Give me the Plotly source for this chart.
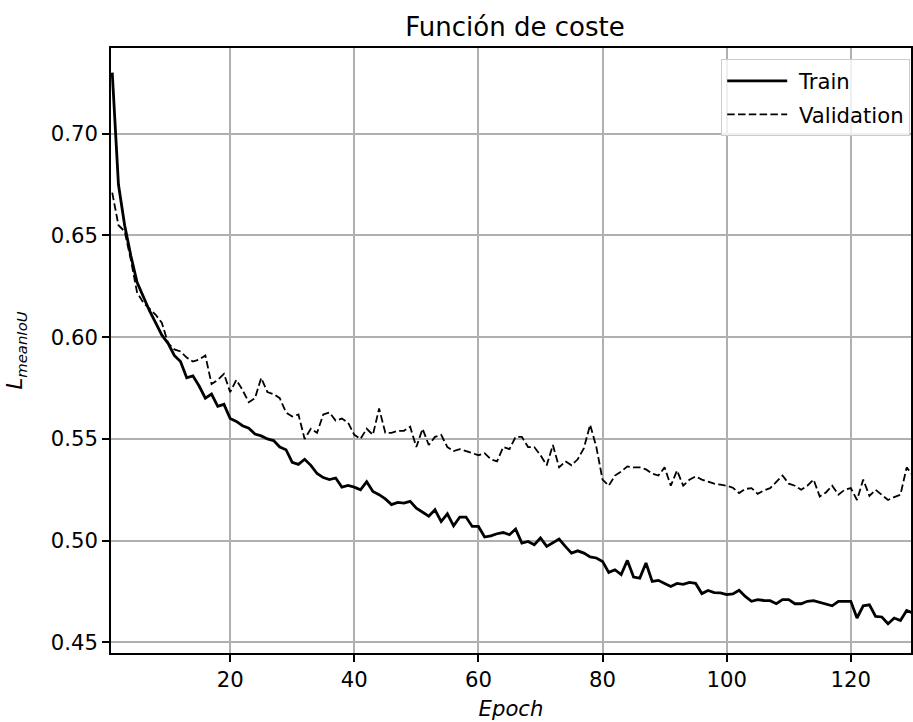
import plotly.graph_objects as go

epochs = list(range(1, 131))

train_loss = [
    0.730, 0.675, 0.655, 0.640, 0.627, 0.620, 0.613, 0.607, 0.601, 0.597,
    0.591, 0.588, 0.580, 0.581, 0.576, 0.570, 0.572, 0.566, 0.567, 0.560,
    0.5586, 0.5565, 0.5553, 0.5524, 0.5515, 0.5500, 0.5492, 0.5460, 0.5447, 0.5385,
    0.5375, 0.5400, 0.5370, 0.5330, 0.5310, 0.5300, 0.5308, 0.5263, 0.5271, 0.5263,
    0.5250, 0.5290, 0.5242, 0.5226, 0.5205, 0.5177, 0.5188, 0.5185, 0.5193, 0.5160,
    0.5139, 0.5120, 0.5152, 0.5094, 0.5132, 0.5073, 0.5116, 0.5116, 0.5070, 0.5070,
    0.5018, 0.5024, 0.5034, 0.5040, 0.5029, 0.5057, 0.4988, 0.4996, 0.4980, 0.5013,
    0.4972, 0.4988, 0.5008, 0.4972, 0.4939, 0.4950, 0.4939, 0.4920, 0.4915, 0.4898,
    0.4844, 0.4857, 0.4833, 0.4903, 0.4821, 0.4816, 0.4890, 0.4800, 0.4805, 0.4790,
    0.4775, 0.4790, 0.4785, 0.4795, 0.4790, 0.4740, 0.4755, 0.4745, 0.4743, 0.4735,
    0.4738, 0.4756, 0.4726, 0.4702, 0.4710, 0.4706, 0.4705, 0.4690, 0.4710, 0.4710,
    0.4690, 0.4690, 0.4702, 0.4705, 0.4697, 0.4690, 0.4680, 0.4702, 0.4702, 0.4702,
    0.4620, 0.4680, 0.4685, 0.4628, 0.4625, 0.4592, 0.4620, 0.4608, 0.4657, 0.4644,
]

val_loss = [
    0.671, 0.655, 0.652, 0.638, 0.622, 0.617, 0.614, 0.611, 0.607, 0.597,
    0.594, 0.593, 0.590, 0.588, 0.589, 0.591, 0.577, 0.579, 0.582, 0.573,
    0.579, 0.574, 0.568, 0.570, 0.580, 0.573, 0.572, 0.570, 0.563, 0.561,
    0.562, 0.550, 0.555, 0.553, 0.562, 0.563, 0.559, 0.560, 0.558, 0.552,
    0.550, 0.555, 0.552, 0.565, 0.553, 0.553, 0.554, 0.554, 0.556, 0.546,
    0.555, 0.547, 0.551, 0.552, 0.546, 0.544, 0.545, 0.544, 0.543, 0.542,
    0.543, 0.540, 0.539, 0.546, 0.545, 0.551, 0.551, 0.546, 0.546, 0.542,
    0.537, 0.547, 0.536, 0.539, 0.537, 0.540, 0.5455, 0.557, 0.546, 0.530,
    0.527, 0.532, 0.534, 0.5365, 0.536, 0.536, 0.535, 0.533, 0.532, 0.536,
    0.527, 0.5345, 0.527, 0.530, 0.5316, 0.530, 0.529, 0.528, 0.5275, 0.527,
    0.526, 0.5234, 0.5254, 0.5258, 0.523, 0.5247, 0.5258, 0.529, 0.532, 0.528,
    0.527, 0.525, 0.527, 0.530, 0.5217, 0.5237, 0.527, 0.5226, 0.525, 0.5258,
    0.520, 0.530, 0.522, 0.525, 0.5226, 0.520, 0.5214, 0.5226, 0.536, 0.532,
]

x_ticks = [20, 40, 60, 80, 100, 120]
y_ticks = [0.45, 0.50, 0.55, 0.60, 0.65, 0.70]
y_tick_labels = ["0.45", "0.50", "0.55", "0.60", "0.65", "0.70"]
series_names = ["Train", "Validation"]

FONT = "DejaVu Sans"
FS = 21.2

fig = go.Figure()
fig.add_trace(go.Scatter(
    x=epochs, y=train_loss, mode="lines", name="\u00a0" + series_names[0], legendgroup="a",
    line=dict(color="black", width=2.8),
))
fig.add_trace(go.Scatter(
    x=epochs, y=val_loss, mode="lines", name="\u00a0" + series_names[1], legendgroup="b",
    line=dict(color="black", width=1.8, dash="7.5px,3.3px"),
))

fig.update_layout(
    width=913, height=722,
    margin=dict(l=111, r=0, t=48, b=69),
    paper_bgcolor="white", plot_bgcolor="white",
    font=dict(family=FONT, size=FS, color="black"),
    title=dict(text="Función de coste", x=515/913, xref="container", xanchor="center",
               y=1 - 27/722, yanchor="middle", font=dict(family=FONT, size=26, color="black")),
    showlegend=True,
    legend=dict(x=0.999, y=0.981, xanchor="right", yanchor="top",
                bgcolor="rgba(255,255,255,0.8)", bordercolor="#cccccc", borderwidth=1,
                font=dict(family=FONT, size=FS, color="black"),
                tracegroupgap=3, itemwidth=60),
)

fig.update_xaxes(
    range=[0.8, 129.7], tickvals=x_ticks, ticktext=[str(v) for v in x_ticks],
    showgrid=True, gridcolor="#b0b0b0", gridwidth=1.6,
    showline=True, linecolor="black", linewidth=1.6, mirror=True,
    ticks="outside", ticklen=7, tickwidth=1.6, tickcolor="black",
    tickfont=dict(family=FONT, size=FS, color="black"),
    zeroline=False,
    title=dict(text="<i>Epoch</i>", font=dict(family=FONT, size=FS, color="black"), standoff=10),
)
fig.update_yaxes(
    range=[0.4448, 0.7421], tickvals=y_ticks, ticktext=y_tick_labels,
    showgrid=True, gridcolor="#b0b0b0", gridwidth=1.6,
    showline=True, linecolor="black", linewidth=1.6, mirror=True,
    ticks="outside", ticklen=7, tickwidth=1.6, tickcolor="black",
    tickfont=dict(family=FONT, size=FS, color="black"),
    zeroline=False,
    title=dict(text="<i>L</i><sub><i>meanIoU</i></sub>", font=dict(family=FONT, size=FS, color="black"), standoff=22),
)

fig.write_html(
    "out.html",
    config={"displayModeBar": False},
    post_script="document.body.style.margin='0';document.body.style.overflow='hidden';",
)
